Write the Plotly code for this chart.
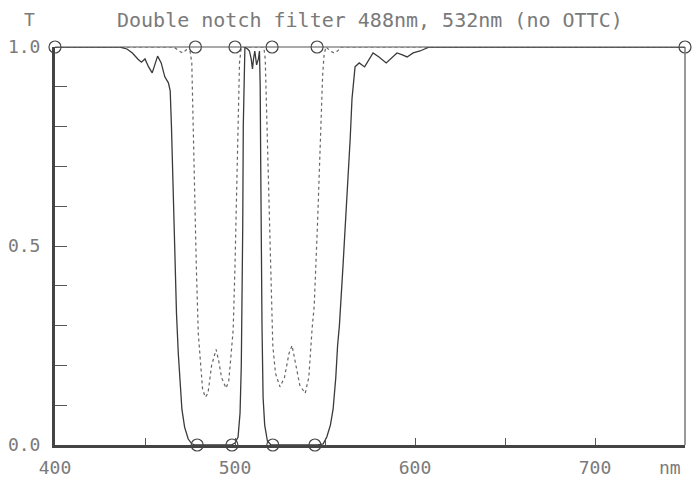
import plotly.graph_objects as go

# ---- data ----
solid_nm = [400, 436, 440, 443, 446, 448, 450, 452, 454, 456, 457, 459, 461, 463,
            464, 464.7, 465.3, 465.8, 466.5, 467.5, 468.5, 469.5, 470.5, 472, 474, 476, 478,
            498, 500, 501.7, 502.8, 503.5, 504, 504.3, 504.6, 505, 505.5, 507, 508, 509,
            509.7, 510.3, 511, 512, 513, 513.6, 514, 514.3, 514.6, 515, 515.6, 516.5, 518, 520,
            546, 549, 551, 553, 554.5, 556, 557, 558, 560, 561.5, 563, 564, 565, 566,
            566.7, 569, 572, 576.7, 580, 584, 587, 590, 593, 595.6, 599, 602.8, 608, 750]
solid_T = [1.0, 1.0, 0.995, 0.985, 0.97, 0.962, 0.97, 0.95, 0.935, 0.965, 0.977, 0.96, 0.925, 0.91,
           0.89, 0.80, 0.70, 0.58, 0.47, 0.33, 0.23, 0.16, 0.09, 0.045, 0.015, 0.003, 0.0,
           0.0, 0.005, 0.02, 0.08, 0.2, 0.35, 0.55, 0.8, 0.95, 1.0, 0.995, 0.99, 0.97,
           0.945, 0.97, 0.99, 0.955, 0.97, 0.99, 0.9, 0.7, 0.5, 0.3, 0.12, 0.05, 0.01, 0.0,
           0.0, 0.003, 0.02, 0.05, 0.09, 0.17, 0.25, 0.3, 0.45, 0.56, 0.67, 0.77, 0.87, 0.93,
           0.95, 0.96, 0.95, 0.985, 0.975, 0.96, 0.972, 0.985, 0.98, 0.975, 0.985, 0.99, 1.0, 1.0]

dotted_nm = [400, 466, 469, 471, 473, 475, 476, 476.5, 477, 477.8, 478.5, 479.6, 480.5, 482,
             483.5, 485, 487, 489.5, 491, 492.5, 495, 496.5, 497.5, 499, 500, 501, 502, 502.5,
             503.5, 516, 516.8, 517.8, 518.5, 519.4, 520.3, 521, 522.5, 525, 527.5, 530,
             531.7, 533.5, 536, 539, 541, 542.8, 544, 545.8, 547.5, 548.7, 549.5, 550.5,
             553, 555, 557, 559, 750]
dotted_T = [1.0, 1.0, 0.99, 0.985, 0.993, 0.99, 0.96, 0.85, 0.75, 0.56, 0.45, 0.28, 0.22, 0.14,
            0.12, 0.13, 0.2, 0.24, 0.21, 0.17, 0.143, 0.16, 0.21, 0.29, 0.45, 0.65, 0.85, 0.96,
            1.0, 1.0, 0.97, 0.8, 0.62, 0.46, 0.33, 0.25, 0.18, 0.146, 0.17, 0.23,
            0.25, 0.21, 0.15, 0.13, 0.17, 0.29, 0.35, 0.55, 0.8, 0.93, 0.98, 1.0,
            0.99, 0.985, 0.99, 1.0, 1.0]

circle_nm = [400, 478, 500, 520.6, 545.6, 750, 479, 498.3, 521, 544.4]
circle_T = [1.0, 1.0, 1.0, 1.0, 1.0, 1.0, 0.0, 0.0, 0.0, 0.0]

x_tickvals = [400, 450, 500, 550, 600, 650, 700]
x_ticktext = ["400", "", "500", "", "600", "", "700"]
y_tickvals = [0.0, 0.1, 0.2, 0.3, 0.4, 0.5, 0.6, 0.7, 0.8, 0.9, 1.0]
y_ticktext = ["0.0", "", "", "", "", "0.5", "", "", "", "", "1.0"]

title_text = "Double notch filter 488nm, 532nm (no OTTC)"

FONT = "DejaVu Sans Mono"
TXT = "#7a7a7a"
INK = "#3a3a3a"

fig = go.Figure()
fig.add_trace(go.Scatter(x=dotted_nm, y=dotted_T, mode="lines",
                         line=dict(color="#666666", width=1.2, dash="dot"),
                         cliponaxis=False, showlegend=False))
fig.add_trace(go.Scatter(x=solid_nm, y=solid_T, mode="lines",
                         line=dict(color=INK, width=1.3),
                         cliponaxis=False, showlegend=False))
fig.add_trace(go.Scatter(x=circle_nm, y=circle_T, mode="markers",
                         marker=dict(symbol="circle-open", size=12, color="#444444",
                                     line=dict(width=1.2)),
                         cliponaxis=False, showlegend=False))

fig.update_layout(
    width=693, height=479,
    margin=dict(l=55, r=8, t=47, b=34, autoexpand=False),
    paper_bgcolor="white", plot_bgcolor="white",
    font=dict(family=FONT, size=18, color=TXT),
    shapes=[
        dict(type="line", xref="paper", yref="paper", x0=1, x1=1, y0=0, y1=1,
             line=dict(color="#777777", width=1.5)),
        dict(type="line", xref="paper", yref="paper", x0=0, x1=1, y0=1, y1=1,
             line=dict(color="#555555", width=1.2)),
    ],
    annotations=[
        dict(text=title_text, xref="paper", yref="paper", x=0.5, y=1, yshift=27,
             showarrow=False, xanchor="center", yanchor="middle",
             font=dict(family=FONT, size=20, color=TXT)),
        dict(text="T", xref="paper", yref="paper", x=0, xshift=-26, y=1, yshift=28,
             showarrow=False, xanchor="center", yanchor="middle",
             font=dict(family=FONT, size=18, color=TXT)),
        dict(text="nm", xref="paper", yref="paper", x=1, xshift=-15, y=0, yshift=-22,
             showarrow=False, xanchor="center", yanchor="middle",
             font=dict(family=FONT, size=18, color=TXT)),
    ],
)
fig.update_xaxes(range=[400, 750], showgrid=False, zeroline=False, automargin=False,
                 showline=True, linecolor="#444444", linewidth=3,
                 ticks="inside", ticklen=7, tickwidth=1.2, tickcolor="#555555",
                 tickvals=x_tickvals, ticktext=x_ticktext, ticklabelstandoff=4)
fig.update_yaxes(range=[0, 1], showgrid=False, zeroline=False, automargin=False,
                 showline=True, linecolor="#444444", linewidth=3,
                 ticks="inside", ticklen=12, tickwidth=1.2, tickcolor="#555555",
                 tickvals=y_tickvals, ticktext=y_ticktext, ticklabelstandoff=8)

fig.write_html("out.html")
